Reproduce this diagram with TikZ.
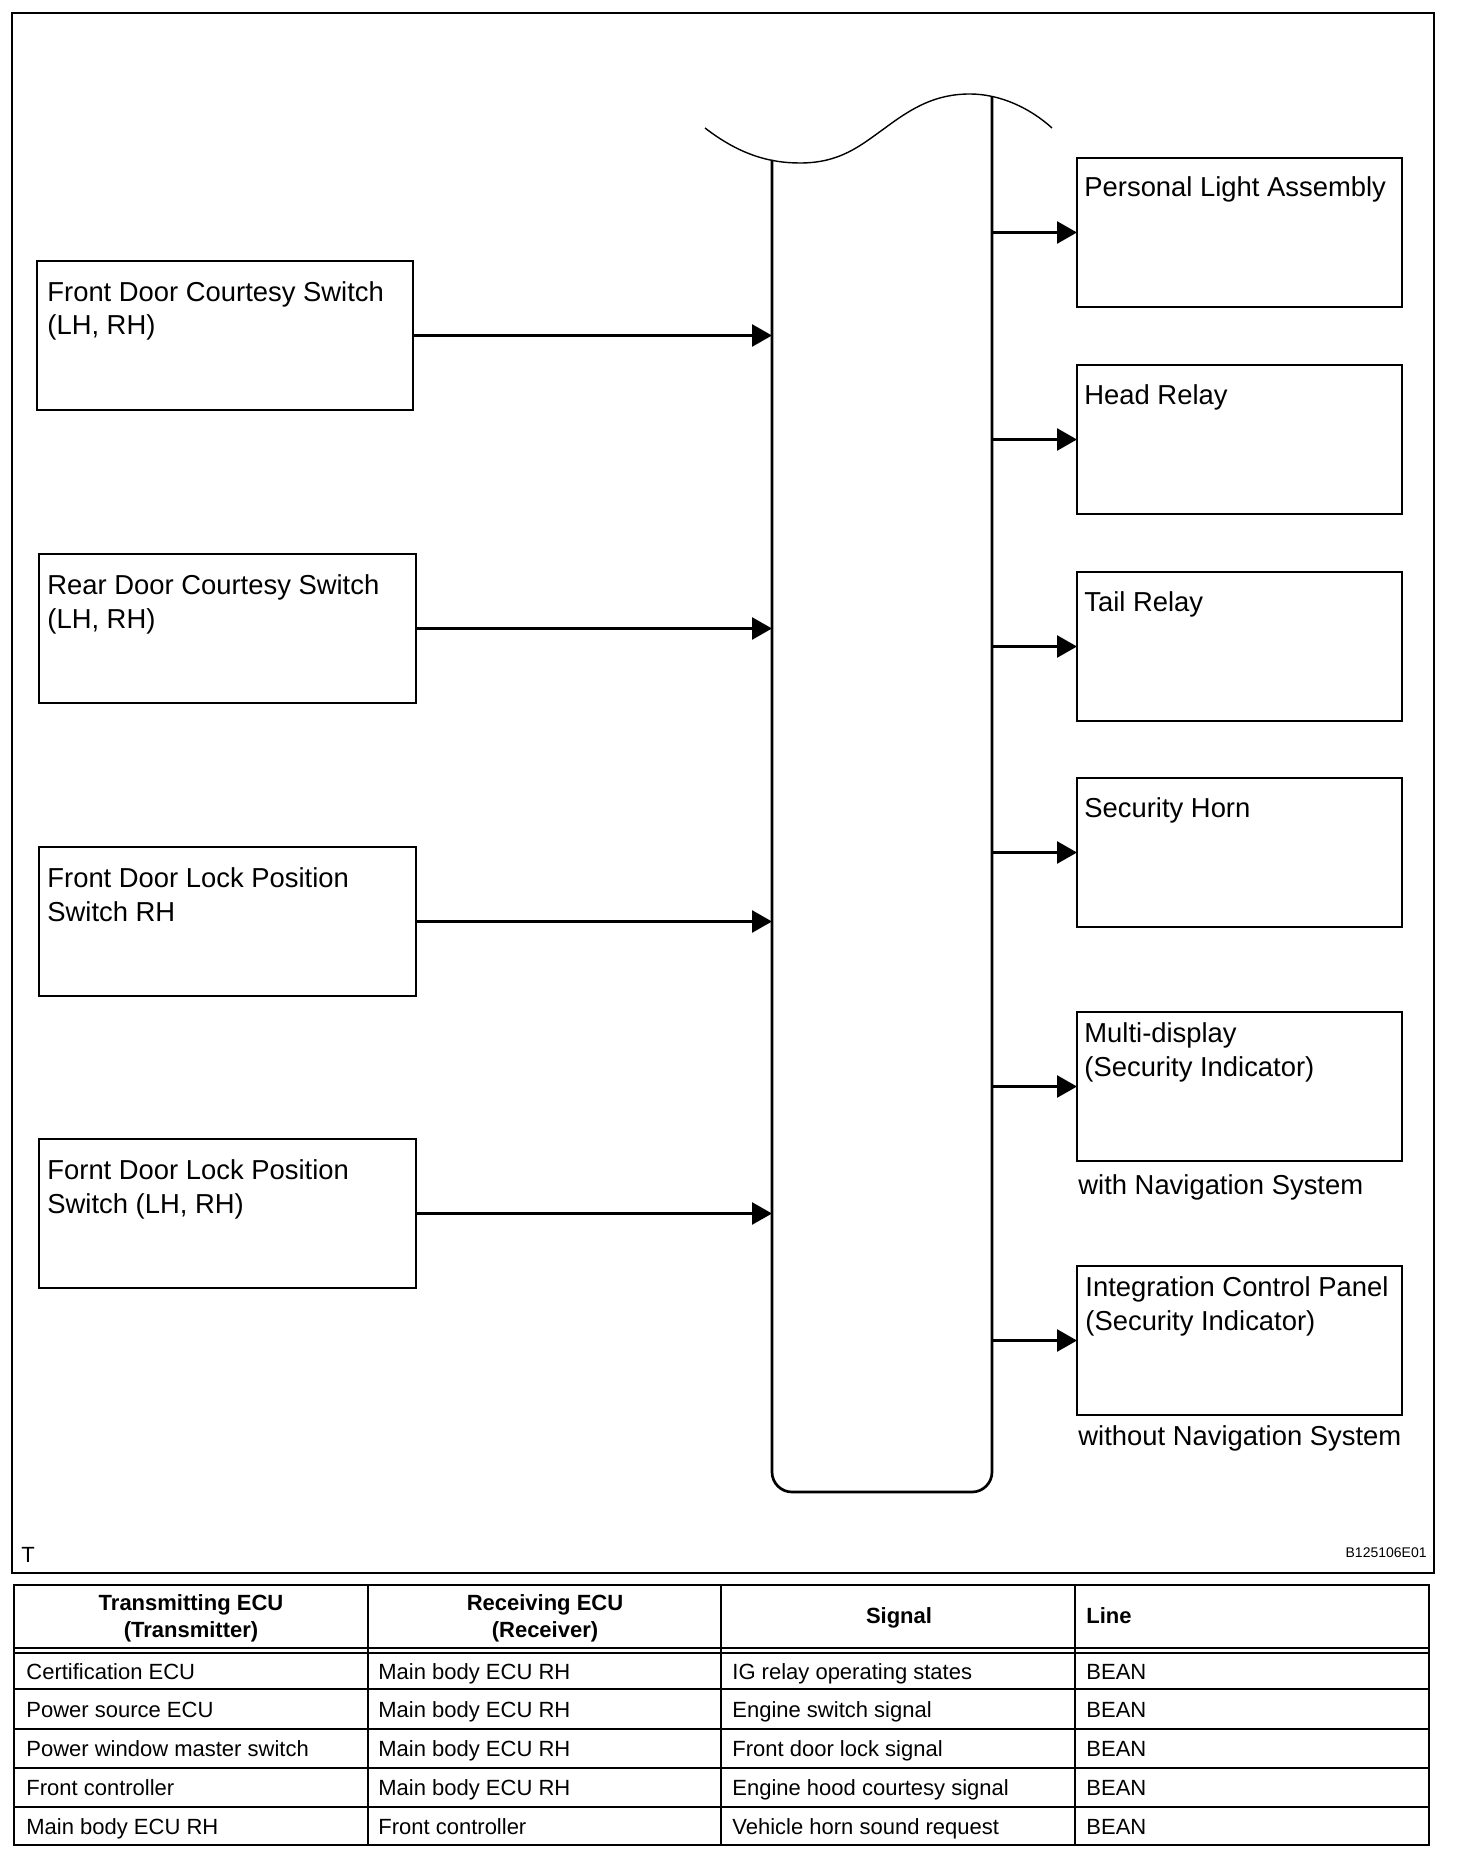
\documentclass[tikz,border=0pt]{standalone}
\usepackage{fontspec}
\setmainfont{Liberation Sans}
\usetikzlibrary{arrows.meta}
\begin{document}
\begin{tikzpicture}[x=0.5pt,y=-0.5pt,
  box/.style={draw, line width=1.35pt, rectangle, minimum width=188.5pt, minimum height=74.5pt, anchor=north west, inner sep=0pt, outer sep=0pt},
  rbox/.style={box, minimum width=162.5pt},
  lbl/.style={anchor=base west, inner sep=0pt, align=left, font=\fontsize{13.7}{16.6}\selectfont},
  conn/.style={line width=1.35pt, -{Triangle[length=10pt,width=11pt]}},
  bus/.style={line width=1.35pt, rounded corners=10pt},
  wave/.style={line width=0.7pt},
  tline/.style={line width=1.2pt},
  ttxt/.style={anchor=base west, inner sep=0pt, font=\fontsize{11}{13.5}\selectfont},
  thead/.style={anchor=base, inner sep=0pt, align=center, font=\fontsize{11}{13.5}\selectfont\bfseries}]
\useasboundingbox (0,0) rectangle (1456,1856);
% frame
\draw[line width=1.35pt] (12,13) rectangle (1434,1573);
% bus
\coordinate (busL) at (772,160);
\coordinate (busR) at (992,97);
\draw[bus] (busL) |- (992,1492) -- (busR);
\draw[wave] (705,128) .. controls (740,155) and (770,163) .. (800,163)
  .. controls (840,163) and (860,146) .. (885,128)
  .. controls (912,108) and (935,94) .. (970,94)
  .. controls (1000,94) and (1030,108) .. (1052,128);
% left boxes
\node[box, minimum width=188pt] (fdcs) at (37,261) {};
\node[box] (rdcs) at (39,554) {};
\node[box] (fdlr) at (39,847) {};
\node[box] (fdlb) at (39,1139) {};
\node[lbl] at ([shift={(10,74)}]fdcs.north west) {Front Door Courtesy Switch\\(LH, RH)};
\node[lbl] at ([shift={(8,74)}]rdcs.north west) {Rear Door Courtesy Switch\\(LH, RH)};
\node[lbl] at ([shift={(8,74)}]fdlr.north west) {Front Door Lock Position\\Switch RH};
\node[lbl] at ([shift={(8,74)}]fdlb.north west) {Fornt Door Lock Position\\Switch (LH, RH)};
% right boxes
\node[rbox] (pla) at (1077,158) {};
\node[rbox] (hr) at (1077,365) {};
\node[rbox] (tr) at (1077,572) {};
\node[rbox] (sh) at (1077,778) {};
\node[rbox] (md) at (1077,1012) {};
\node[rbox] (icp) at (1077,1266) {};
\node[lbl] at ([shift={(7,39)}]pla.north west) {Personal Light Assembly};
\node[lbl] at ([shift={(7,39)}]hr.north west) {Head Relay};
\node[lbl] at ([shift={(7,39)}]tr.north west) {Tail Relay};
\node[lbl] at ([shift={(7,39)}]sh.north west) {Security Horn};
\node[lbl] at ([shift={(7,64)}]md.north west) {Multi-display\\(Security Indicator)};
\node[lbl] at ([shift={(8,64)}]icp.north west) {Integration Control Panel\\(Security Indicator)};
\node[lbl] (withnav) at ([shift={(1,33)}]md.south west) {with Navigation System};
\node[lbl] (withoutnav) at ([shift={(1,30)}]icp.south west) {without Navigation System};
% connectors
\foreach \b in {fdcs,rdcs,fdlr,fdlb}{\draw[conn] (\b.east) -- (\b.east -| busL);}
\foreach \b in {pla,hr,tr,sh,md,icp}{\draw[conn] (\b.west -| busR) -- (\b.west);}
% corner marks
\node[anchor=base west, inner sep=0pt, font=\fontsize{11}{12}\selectfont] (tmark) at (21,1562) {T};
\node[anchor=base east, inner sep=0pt, font=\fontsize{7}{8}\selectfont] (code) at (1427,1557) {B125106E01};
% table
\draw[tline] (14,1585) rectangle (1429,1845);
\foreach \x in {368,721,1075}{\draw[tline] (\x,1585) -- (\x,1845);}
\foreach \y in {1648,1653,1689,1729,1768,1807}{\draw[tline] (14,\y) -- (1429,\y);}
\node[thead] (h1) at (191,1637) {Transmitting ECU\\(Transmitter)};
\node[thead] (h2) at (545,1637) {Receiving ECU\\(Receiver)};
\node[thead] (h3) at (899,1623) {Signal};
\node[thead, anchor=base west] (h4) at (1086,1623) {Line};
\foreach \y/\a/\b/\c in {1679/Certification ECU/Main body ECU RH/IG relay operating states,
  1717/Power source ECU/Main body ECU RH/Engine switch signal,
  1756/Power window master switch/Main body ECU RH/Front door lock signal,
  1795/Front controller/Main body ECU RH/Engine hood courtesy signal,
  1834/Main body ECU RH/Front controller/Vehicle horn sound request}{
  \node[ttxt] at (26,\y) {\a};
  \node[ttxt] at (378,\y) {\b};
  \node[ttxt] at (732,\y) {\c};
  \node[ttxt] at (1086,\y) {BEAN};
}
\end{tikzpicture}
\end{document}
